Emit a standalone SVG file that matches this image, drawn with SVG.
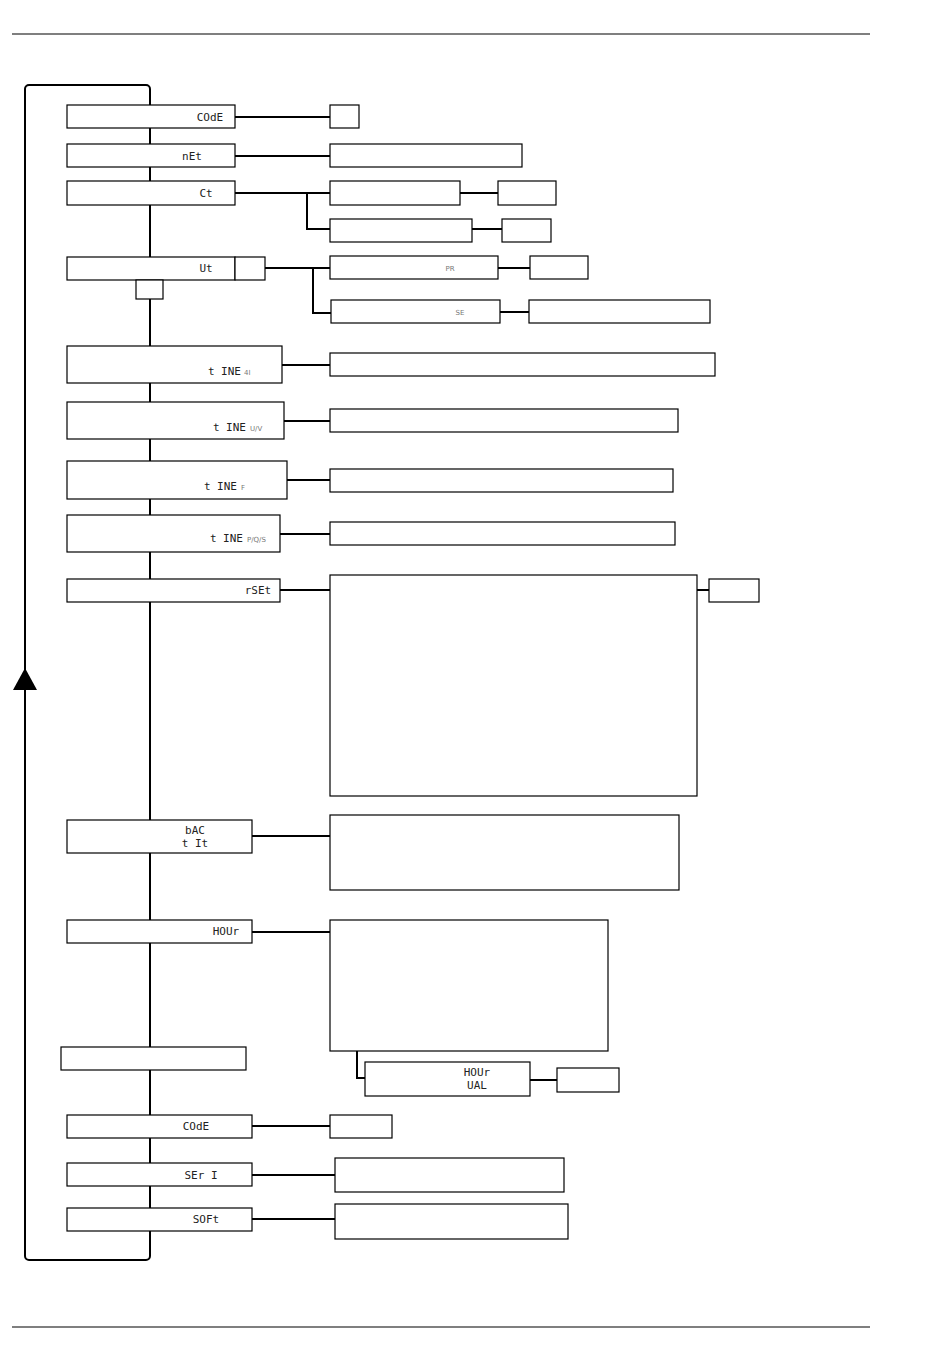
<svg xmlns="http://www.w3.org/2000/svg" width="950" height="1368" viewBox="0 0 950 1368">
<style>
.b{fill:#fff;stroke:#000;stroke-width:1.2}
.c{fill:none;stroke:#000;stroke-width:2}
.t{font-family:"DejaVu Sans Mono","Liberation Mono",monospace;font-size:11px;fill:#222;text-anchor:middle}
.e{font-family:"DejaVu Sans Mono","Liberation Mono",monospace;font-size:11px;fill:#222;text-anchor:end}
.s{font-family:"DejaVu Sans","Liberation Sans",sans-serif;font-size:7px;fill:#777;text-anchor:start}
.g{font-family:"DejaVu Sans","Liberation Sans",sans-serif;font-size:7px;fill:#777;text-anchor:middle}
</style>
<rect width="950" height="1368" fill="#fff"/>
<line x1="12" y1="34" x2="870" y2="34" stroke="#000" stroke-width="1.2"/>
<line x1="12" y1="1327" x2="870" y2="1327" stroke="#000" stroke-width="1.2"/>
<g id="connectors">
<rect x="25" y="85" width="125" height="1175" rx="4" ry="4" class="c"/>
<polygon points="25,668 13,690 37,690" fill="#000"/>
<line x1="235" y1="117" x2="330" y2="117" class="c"/>
<line x1="235" y1="156" x2="330" y2="156" class="c"/>
<line x1="235" y1="193" x2="330" y2="193" class="c"/>
<polyline points="307,193 307,229 330,229" class="c"/>
<line x1="460" y1="193" x2="498" y2="193" class="c"/>
<line x1="472" y1="229" x2="502" y2="229" class="c"/>
<line x1="265" y1="268" x2="330" y2="268" class="c"/>
<polyline points="313,268 313,313 331,313" class="c"/>
<line x1="498" y1="268" x2="530" y2="268" class="c"/>
<line x1="500" y1="312" x2="529" y2="312" class="c"/>
<line x1="282" y1="365" x2="330" y2="365" class="c"/>
<line x1="284" y1="421" x2="330" y2="421" class="c"/>
<line x1="287" y1="480" x2="330" y2="480" class="c"/>
<line x1="280" y1="534" x2="330" y2="534" class="c"/>
<line x1="280" y1="590" x2="330" y2="590" class="c"/>
<line x1="697" y1="590" x2="709" y2="590" class="c"/>
<line x1="252" y1="836" x2="330" y2="836" class="c"/>
<line x1="252" y1="932" x2="330" y2="932" class="c"/>
<polyline points="357,1051 357,1078 365,1078" class="c"/>
<line x1="530" y1="1080" x2="557" y2="1080" class="c"/>
<line x1="252" y1="1126" x2="330" y2="1126" class="c"/>
<line x1="252" y1="1175" x2="335" y2="1175" class="c"/>
<line x1="252" y1="1219" x2="335" y2="1219" class="c"/>
</g>
<g id="n-code1"><rect x="67" y="105" width="168" height="23" class="b"/><text x="210" y="121" class="t">COdE</text></g>
<g id="n-code1-v"><rect x="330" y="105" width="29" height="23" class="b"/></g>
<g id="n-net"><rect x="67" y="144" width="168" height="23" class="b"/><text x="192" y="160" class="t">nEt</text></g>
<g id="n-net-v"><rect x="330" y="144" width="192" height="23" class="b"/></g>
<g id="n-ct"><rect x="67" y="181" width="168" height="24" class="b"/><text x="206" y="197" class="t">Ct</text></g>
<g id="n-ct-a"><rect x="330" y="181" width="130" height="24" class="b"/></g>
<g id="n-ct-a-v"><rect x="498" y="181" width="58" height="24" class="b"/></g>
<g id="n-ct-b"><rect x="330" y="219" width="142" height="23" class="b"/></g>
<g id="n-ct-b-v"><rect x="502" y="219" width="49" height="23" class="b"/></g>
<g id="n-ut"><rect x="67" y="257" width="168" height="23" class="b"/><rect x="235" y="257" width="30" height="23" class="b"/><rect x="136" y="280" width="27" height="19" class="b"/><text x="206" y="272" class="t">Ut</text></g>
<g id="n-ut-pr"><rect x="330" y="256" width="168" height="23" class="b"/><text x="450" y="271" class="g">PR</text></g>
<g id="n-ut-pr-v"><rect x="530" y="256" width="58" height="23" class="b"/></g>
<g id="n-ut-se"><rect x="331" y="300" width="169" height="23" class="b"/><text x="460" y="315" class="g">SE</text></g>
<g id="n-ut-se-v"><rect x="529" y="300" width="181" height="23" class="b"/></g>
<g id="n-time-i"><rect x="67" y="346" width="215" height="37" class="b"/><text x="241" y="375" class="e">t INE</text><text x="244" y="375" class="s">4I</text></g>
<g id="n-time-i-v"><rect x="330" y="353" width="385" height="23" class="b"/></g>
<g id="n-time-uv"><rect x="67" y="402" width="217" height="37" class="b"/><text x="246" y="431" class="e">t INE</text><text x="250" y="431" class="s">U/V</text></g>
<g id="n-time-uv-v"><rect x="330" y="409" width="348" height="23" class="b"/></g>
<g id="n-time-f"><rect x="67" y="461" width="220" height="38" class="b"/><text x="237" y="490" class="e">t INE</text><text x="241" y="490" class="s">F</text></g>
<g id="n-time-f-v"><rect x="330" y="469" width="343" height="23" class="b"/></g>
<g id="n-time-pqs"><rect x="67" y="515" width="213" height="37" class="b"/><text x="243" y="542" class="e">t INE</text><text x="247" y="542" class="s">P/Q/S</text></g>
<g id="n-time-pqs-v"><rect x="330" y="522" width="345" height="23" class="b"/></g>
<g id="n-rset"><rect x="67" y="579" width="213" height="23" class="b"/><text x="258" y="594" class="t">rSEt</text></g>
<g id="n-rset-v"><rect x="330" y="575" width="367" height="221" class="b"/></g>
<g id="n-rset-x"><rect x="709" y="579" width="50" height="23" class="b"/></g>
<g id="n-baclit"><rect x="67" y="820" width="185" height="33" class="b"/><text x="195" y="834" class="t">bAC</text><text x="195" y="847" class="t">t It</text></g>
<g id="n-baclit-v"><rect x="330" y="815" width="349" height="75" class="b"/></g>
<g id="n-hour"><rect x="67" y="920" width="185" height="23" class="b"/><text x="226" y="935" class="t">HOUr</text></g>
<g id="n-hour-v"><rect x="330" y="920" width="278" height="131" class="b"/></g>
<g id="n-hourval"><rect x="365" y="1062" width="165" height="34" class="b"/><text x="477" y="1076" class="t">HOUr</text><text x="477" y="1089" class="t">UAL</text></g>
<g id="n-hourval-v"><rect x="557" y="1068" width="62" height="24" class="b"/></g>
<g id="n-blank"><rect x="61" y="1047" width="185" height="23" class="b"/></g>
<g id="n-code2"><rect x="67" y="1115" width="185" height="23" class="b"/><text x="196" y="1130" class="t">COdE</text></g>
<g id="n-code2-v"><rect x="330" y="1115" width="62" height="23" class="b"/></g>
<g id="n-seri"><rect x="67" y="1163" width="185" height="23" class="b"/><text x="201" y="1179" class="t">SEr I</text></g>
<g id="n-seri-v"><rect x="335" y="1158" width="229" height="34" class="b"/></g>
<g id="n-soft"><rect x="67" y="1208" width="185" height="23" class="b"/><text x="206" y="1223" class="t">SOFt</text></g>
<g id="n-soft-v"><rect x="335" y="1204" width="233" height="35" class="b"/></g>
</svg>
